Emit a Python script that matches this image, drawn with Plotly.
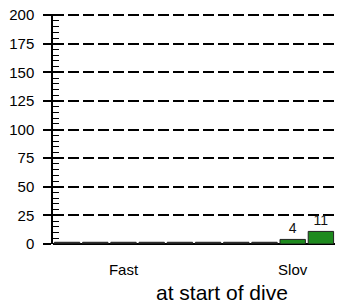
import plotly.graph_objects as go

categories = ["c1", "c2", "c3", "c4", "c5", "c6", "c7", "c8", "c9", "c10"]
values = [1.5, 1.5, 1.5, 1.5, 1.5, 1.5, 1.5, 1.5, 4, 11]
bar_colors = ["#1a1a1a"] * 8 + ["#1e8a1e", "#1e8a1e"]
labels = [""] * 8 + ["4", "11"]
tick_vals = ["c3", "c9"]
tick_text = ["Fast", "Slov"]
y_ticks = [0, 25, 50, 75, 100, 125, 150, 175, 200]

fig = go.Figure()
fig.add_trace(go.Bar(
    x=categories, y=values,
    marker=dict(color=bar_colors, line=dict(color="#222222", width=1)),
    text=labels, textposition="outside", cliponaxis=False,
    textfont=dict(family="Liberation Sans, Arial", size=14, color="#111111"),
))

fig.update_layout(
    width=348, height=306,
    margin=dict(l=53, r=13, t=14, b=62, autoexpand=False),
    paper_bgcolor="white", plot_bgcolor="white",
    showlegend=False, bargap=0.1,
    font=dict(family="Liberation Sans, Arial", color="black"),
)
fig.update_xaxes(
    type="category", range=[-0.5, 9.5], automargin=False,
    tickmode="array", tickvals=tick_vals, ticktext=tick_text,
    tickfont=dict(size=15), ticks="", showgrid=False, showline=False,
    ticklabelstandoff=15,
)
fig.update_yaxes(
    range=[0, 201], tickmode="array", tickvals=y_ticks, automargin=False,
    tickfont=dict(size=15),
    showline=True, linecolor="black", linewidth=1.5,
    ticks="outside", ticklen=8, tickwidth=1.5, tickcolor="black",
    minor=dict(dtick=5, ticks="inside", ticklen=6, tickwidth=1, tickcolor="black", showgrid=False),
    showgrid=True, gridcolor="black", gridwidth=1.5, griddash="11px,4px",
    zeroline=True, zerolinecolor="black", zerolinewidth=1.5,
    ticklabelstandoff=6,
)
fig.add_annotation(
    text="at start of dive", xref="paper", yref="paper",
    x=0.6, y=-0.21, xanchor="center", yanchor="middle",
    showarrow=False, font=dict(size=21, color="black"),
)
fig.write_html("out.html", config={"displayModeBar": False},
               post_script="document.body.style.margin='0';")
